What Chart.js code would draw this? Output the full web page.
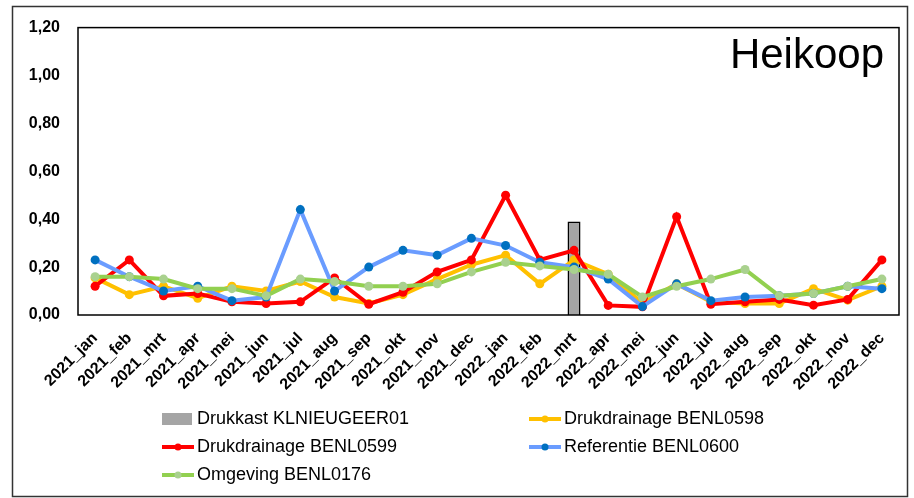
<!DOCTYPE html>
<html>
<head>
<meta charset="utf-8">
<script src="https://cdn.jsdelivr.net/npm/chart.js@4"></script>
<style>
  html, body { margin: 0; padding: 0; background: #fff; }
  #wrap { width: 914px; height: 498px; }
</style>
</head>
<body>
<div id="wrap"><canvas id="myChart" width="914" height="498"></canvas></div>
<script>
var months = ["2021_jan", "2021_feb", "2021_mrt", "2021_apr", "2021_mei", "2021_jun",
  "2021_jul", "2021_aug", "2021_sep", "2021_okt", "2021_nov", "2021_dec",
  "2022_jan", "2022_feb", "2022_mrt", "2022_apr", "2022_mei", "2022_jun",
  "2022_jul", "2022_aug", "2022_sep", "2022_okt", "2022_nov", "2022_dec"];

var drukkast = [null, null, null, null, null, null, null, null, null, null, null, null,
  null, null, 0.39, null, null, null, null, null, null, null, null, null];
var benl0598 = [0.155, 0.085, 0.12, 0.07, 0.12, 0.10, 0.14, 0.075, 0.048, 0.085, 0.15, 0.21,
  0.25, 0.13, 0.23, 0.17, 0.05, 0.13, 0.055, 0.048, 0.048, 0.11, 0.062, 0.12];
var benl0599 = [0.12, 0.23, 0.08, 0.09, 0.055, 0.048, 0.055, 0.155, 0.045, 0.095, 0.18, 0.23,
  0.50, 0.23, 0.27, 0.04, 0.034, 0.41, 0.045, 0.055, 0.065, 0.041, 0.065, 0.23];
var benl0600 = [0.23, 0.16, 0.10, 0.12, 0.06, 0.075, 0.44, 0.10, 0.20, 0.27, 0.25, 0.32,
  0.29, 0.22, 0.20, 0.15, 0.035, 0.13, 0.06, 0.075, 0.08, 0.09, 0.12, 0.11];
var benl0176 = [0.16, 0.16, 0.15, 0.11, 0.11, 0.08, 0.15, 0.14, 0.12, 0.12, 0.13, 0.18,
  0.22, 0.205, 0.19, 0.17, 0.075, 0.12, 0.15, 0.19, 0.08, 0.09, 0.12, 0.15];

var yTicks = [0, 0.2, 0.4, 0.6, 0.8, 1.0, 1.2];

function lineSet(label, data, lineColor, pointColor, order) {
  return {
    type: "line",
    label: label,
    data: data,
    borderColor: lineColor,
    backgroundColor: pointColor,
    pointBackgroundColor: pointColor,
    pointBorderWidth: 0,
    pointRadius: 4.5,
    borderWidth: 4,
    tension: 0,
    order: order,
  };
}

// frames + legend drawn by hand (excel style, 2 columns)
var excelLook = {
  id: "excelLook",
  afterDraw: function (chart) {
    var ctx = chart.ctx;
    var a = chart.chartArea;
    ctx.save();
    ctx.strokeStyle = "#000";
    ctx.lineWidth = 1.5;
    ctx.strokeRect(a.left, a.top, a.right - a.left, a.bottom - a.top);
    ctx.strokeStyle = "#333";
    ctx.lineWidth = 1.5;
    ctx.strokeRect(12.5, 6.5, 895, 490);

    ctx.fillStyle = "#000";
    ctx.font = "42px 'Liberation Sans'";
    ctx.textAlign = "right";
    ctx.textBaseline = "alphabetic";
    ctx.fillText("Heikoop", a.right - 15, 68);

    var spots = [[162, 419], [529, 419], [162, 447], [529, 447], [162, 475]];
    ctx.font = "18px 'Liberation Sans'";
    ctx.textAlign = "left";
    ctx.textBaseline = "middle";
    chart.data.datasets.forEach(function (ds, i) {
      var x = spots[i][0], y = spots[i][1];
      if (ds.type === "bar") {
        ctx.fillStyle = ds.backgroundColor;
        ctx.fillRect(x, y - 6, 30, 12);
      } else {
        ctx.strokeStyle = ds.borderColor;
        ctx.lineWidth = 4;
        ctx.beginPath();
        ctx.moveTo(x, y);
        ctx.lineTo(x + 32, y);
        ctx.stroke();
        ctx.fillStyle = ds.pointBackgroundColor;
        ctx.beginPath();
        ctx.arc(x + 16, y, 3.5, 0, Math.PI * 2);
        ctx.fill();
      }
      ctx.fillStyle = "#000";
      ctx.fillText(ds.label, x + 35, y);
    });
    ctx.restore();
  },
};

var ctx = document.getElementById("myChart").getContext("2d");
var chart = new Chart(ctx, {
  type: "bar",
  data: {
    labels: months,
    datasets: [
      {
        type: "bar",
        label: "Drukkast KLNIEUGEER01",
        data: drukkast,
        backgroundColor: "#A5A5A5",
        borderColor: "#000",
        borderWidth: 1.5,
        barPercentage: 0.38,
        categoryPercentage: 1,
        order: 10,
      },
      lineSet("Drukdrainage BENL0598", benl0598, "#FFC000", "#FFC000", 5),
      lineSet("Drukdrainage BENL0599", benl0599, "#FF0000", "#FF0000", 4),
      lineSet("Referentie BENL0600", benl0600, "#6A9CFF", "#0070C0", 3),
      lineSet("Omgeving BENL0176", benl0176, "#92D050", "#A9D18E", 2),
    ],
  },
  options: {
    responsive: false,
    animation: false,
    layout: { padding: { top: 24, right: 15, left: 0, bottom: 0 } },
    plugins: {
      legend: { display: false },
      tooltip: { enabled: false },
    },
    scales: {
      x: {
        offset: true,
        grid: { display: false, drawTicks: false },
        border: { display: false },
        ticks: {
          autoSkip: false,
          minRotation: 45,
          maxRotation: 45,
          padding: 14,
          color: "#000",
          font: { family: "'Liberation Sans'", size: 16, weight: "bold" },
        },
        afterFit: function (scale) { scale.height = 183; },
      },
      y: {
        min: 0,
        max: 1.2,
        grid: { display: false, drawTicks: false },
        border: { display: false },
        afterBuildTicks: function (scale) {
          scale.ticks = yTicks.map(function (v) { return { value: v }; });
        },
        ticks: {
          padding: 18,
          color: "#000",
          font: { family: "'Liberation Sans'", size: 16, weight: "bold" },
          callback: function (v) { return v.toFixed(2).replace(".", ","); },
        },
        afterFit: function (scale) { scale.width = 78; },
      },
    },
  },
  plugins: [excelLook],
});
</script>
</body>
</html>
